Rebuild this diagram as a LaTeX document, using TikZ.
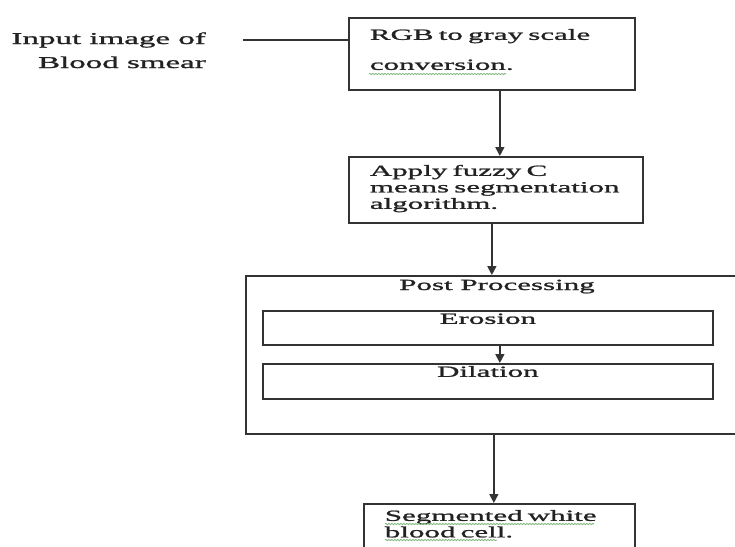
\documentclass[tikz,border=0pt]{standalone}
\usepackage{fontspec}
\setmainfont{Liberation Serif}[FakeStretch=2.0,FakeBold=1.4]
\usepackage{tikz}
\usetikzlibrary{arrows.meta, decorations.pathmorphing}
\definecolor{cLine}{HTML}{333333}
\definecolor{cText}{HTML}{222222}
\definecolor{cSpell}{HTML}{7FB77F}

\begin{document}
\begin{tikzpicture}[
  x=1pt, y=-1pt,
  box/.style={rectangle, draw=cLine, line width=1.7pt, anchor=north west,
    inner xsep=21pt, inner ysep=0pt, align=left, text=cText,
    font=\fontsize{15.5}{16.5}\selectfont},
  stage/.style={rectangle, draw=cLine, line width=1.7pt, anchor=north west,
    inner sep=0pt, align=center, text=cText,
    font=\fontsize{15.5}{16.5}\selectfont},
  title/.style={anchor=base, inner sep=0pt, text=cText,
    font=\fontsize{15.5}{16.5}\selectfont},
  conn/.style={line width=1.6pt, cLine},
  arr/.style={-{Triangle[length=9pt,width=9pt]}, line width=1.6pt, cLine},
  spell/.style={cSpell, line width=0.8pt,
    decorate, decoration={snake, segment length=3pt, amplitude=0.7pt}}
]
  \useasboundingbox (0,0) rectangle (735,546);
  \clip (0,0) rectangle (735,546);

  \node[anchor=base east, align=right, inner sep=0pt, text=cText,
    font=\fontsize{16.5}{24}\selectfont] (input) at (206,68)
    {Input image of\\Blood smear};

  \node[box, text width=244pt, text height=22pt, text depth=50pt,
    font=\fontsize{15.5}{30}\selectfont] (rgb) at (348,17)
    {RGB to gray scale\\conversion.};
  \node[box, text width=252pt, text height=19pt, text depth=47pt] (apply) at (348,156)
    {Apply fuzzy C\\means segmentation\\algorithm.};

  \node[stage, minimum width=500pt, minimum height=158pt] (post) at (245,275) {};
  \node[title] (posttitle) at (497,290) {Post Processing};
  \node[stage, text width=450pt, text height=13pt, text depth=21pt] (erosion) at (262,310) {Erosion};
  \node[stage, text width=450pt, text height=13pt, text depth=22pt] (dilation) at (262,363) {Dilation};

  \node[box, text width=229pt, text height=17pt, text depth=60pt] (wbc) at (363,503)
    {Segmented white\\blood cell.};

  \draw[spell] ([shift={(21,57)}]rgb.north west) -- ++(137,0);
  \draw[spell] ([shift={(22,21)}]wbc.north west) -- ++(209,0);
  \draw[spell] ([shift={(22,37)}]wbc.north west) -- ++(112,0);

  \coordinate (tap) at (243,40);
  \draw[conn] (tap) -- (tap -| rgb.west);

  \draw[arr] ([xshift=8pt]rgb.south) -- ([xshift=8pt]rgb.south |- apply.north);
  \draw[arr] ([xshift=-4pt]apply.south) -- ([xshift=-4pt]apply.south |- post.north);
  \draw[arr] ([xshift=12pt]erosion.south) -- ([xshift=12pt]erosion.south |- dilation.north);
  \draw[arr] ([xshift=-2pt]post.south) -- ([xshift=-2pt]post.south |- wbc.north);

\end{tikzpicture}
\end{document}
